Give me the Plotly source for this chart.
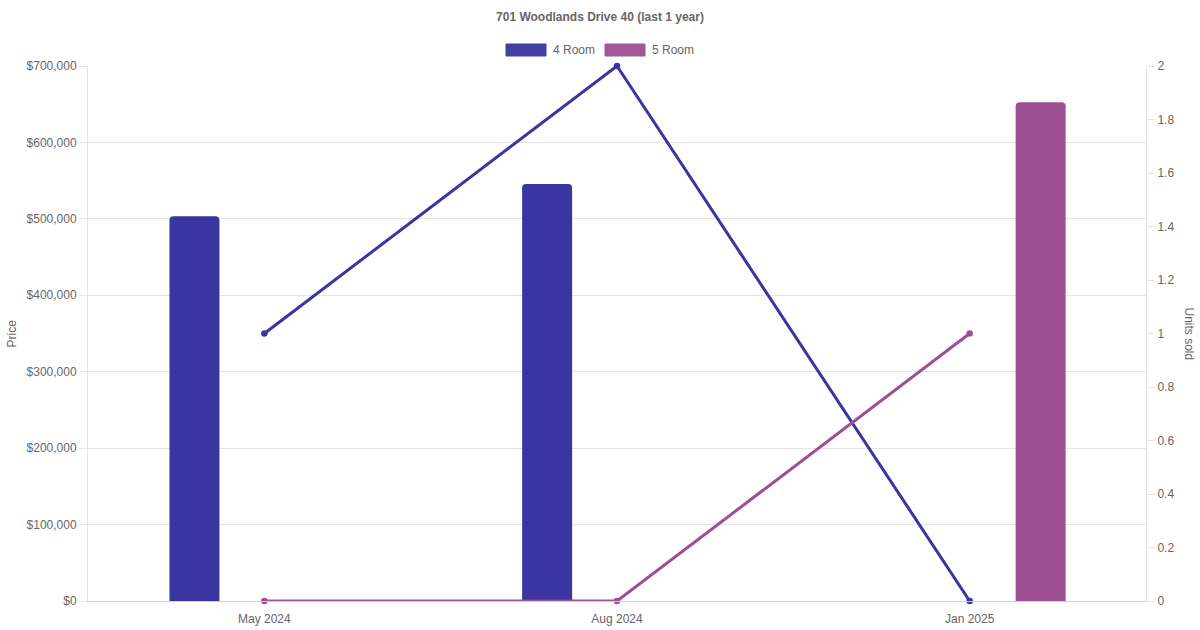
import plotly.graph_objects as go

categories = ["May 2024", "Aug 2024", "Jan 2025"]
price_4room = [503500, 545500, None]
price_5room = [None, None, 652500]
units_4room = [1, 2, 0]
units_5room = [0, 0, 1]
series_names = ["4 Room", "5 Room"]
colors = ["#3a35a0", "#9e4f94"]

W, H = 1200, 630
ML, MR, MT, MB = 88, 54, 66, 29
font_fam = "Liberation Sans, Arial, sans-serif"
grey = "#666666"
grid = "#e5e5e5"

fig = go.Figure()

bar_w = 50 / 352.7
offsets = [-0.269, 0.1304]
for name, vals, col, off in zip(series_names, [price_4room, price_5room], colors, offsets):
    fig.add_trace(go.Bar(
        x=categories, y=vals, name=name, width=bar_w, offset=off,
        marker=dict(color=col, cornerradius=4, line=dict(width=0)),
        showlegend=False, yaxis="y"))

for name, vals, col in zip(series_names, [units_4room, units_5room], colors):
    fig.add_trace(go.Scatter(
        x=categories, y=vals, name=name, mode="lines+markers",
        line=dict(color=col, width=3), marker=dict(color=col, size=6.5),
        showlegend=False, yaxis="y2", cliponaxis=False))

# custom legend
PW, PH = W - ML - MR, H - MT - MB
legend_items = [(506, "4 Room", colors[0]), (605, "5 Room", colors[1])]
shapes = []
annotations = []
for x0, label, col in legend_items:
    shapes.append(dict(type="rect", xref="paper", yref="paper",
                       x0=(x0 - ML) / PW, x1=(x0 + 40 - ML) / PW,
                       y0=(H - MB - 56) / PH, y1=(H - MB - 44) / PH,
                       fillcolor=col, line=dict(width=1, color=col), opacity=0.95))
    annotations.append(dict(text=label, xref="paper", yref="paper",
                            x=(x0 + 45 - ML) / PW, y=(H - MB - 50) / PH,
                            xanchor="left", yanchor="middle", showarrow=False,
                            font=dict(size=12, color=grey, family=font_fam)))

annotations.append(dict(text="Units sold", xref="paper", yref="paper",
                        x=(1189 - ML) / PW, y=0.5, textangle=90,
                        xanchor="center", yanchor="middle", showarrow=False,
                        font=dict(size=12, color=grey, family=font_fam)))
annotations.append(dict(text="Price", xref="paper", yref="paper",
                        x=(11 - ML) / PW, y=0.5, textangle=-90,
                        xanchor="center", yanchor="middle", showarrow=False,
                        font=dict(size=12, color=grey, family=font_fam)))

fig.update_layout(
    width=W, height=H,
    margin=dict(l=ML, r=MR, t=MT, b=MB, pad=0, autoexpand=False),
    paper_bgcolor="white", plot_bgcolor="white",
    barmode="overlay",
    font=dict(family=font_fam, size=12, color=grey),
    title=dict(text="<b>701 Woodlands Drive 40 (last 1 year)</b>", x=0.5, xanchor="center",
               y=1 - 17 / H, yanchor="middle", automargin=False,
               font=dict(size=12, color=grey, family=font_fam)),
    xaxis=dict(type="category", range=[-0.5, 2.5], showgrid=False, automargin=False,
               showline=True, linecolor="#d0d0d0", linewidth=1,
               ticks="outside", ticklen=7, tickcolor="rgba(0,0,0,0)",
               tickfont=dict(size=12, color=grey), fixedrange=True),
    yaxis=dict(range=[0, 700000], dtick=100000, tickprefix="$", tickformat=",d",
               automargin=False,
               showgrid=True, gridcolor=grid, gridwidth=1, zeroline=False,
               showline=True, linecolor=grid, linewidth=1,
               ticks="outside", ticklen=8, tickcolor=grid,
               tickfont=dict(size=12, color=grey)),
    yaxis2=dict(range=[0, 2], dtick=0.2, overlaying="y", side="right", automargin=False,
                showgrid=False, zeroline=False, showline=True, linecolor=grid, linewidth=1,
                ticks="outside", ticklen=8, tickcolor=grid,
                tickfont=dict(size=12, color=grey)),
    shapes=shapes, annotations=annotations,
    showlegend=False,
)

fig.write_html("out.html", config={"displayModeBar": False},
               post_script="document.body.style.margin='0';document.body.style.overflow='hidden';")
